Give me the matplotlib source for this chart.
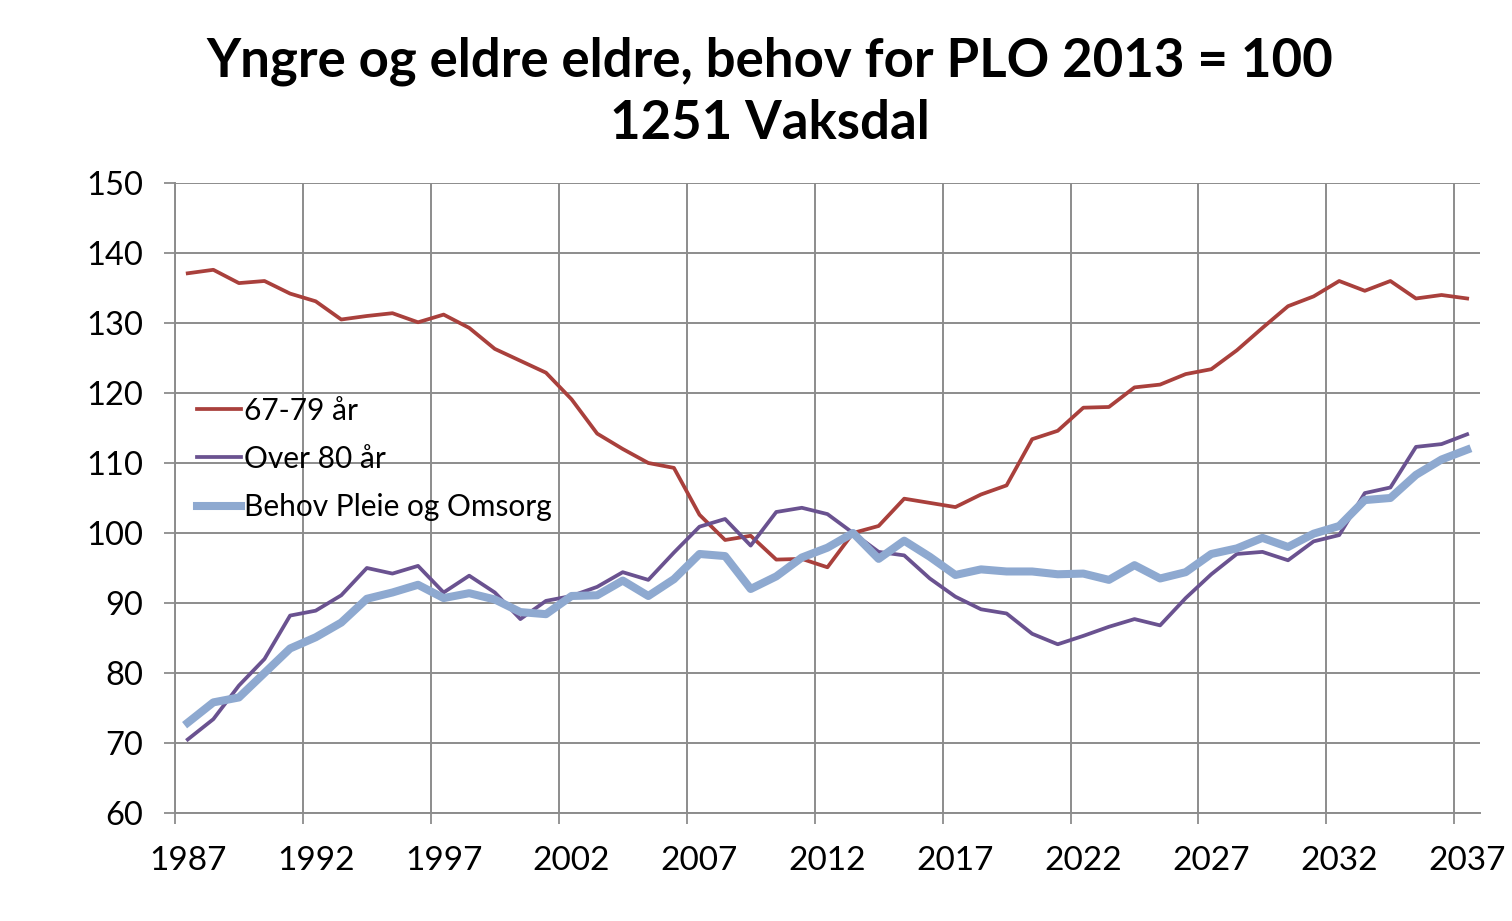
import numpy as np
import matplotlib.pyplot as plt

years = np.arange(1987, 2038)

# 67-79 år
yngre = [137.1, 137.6, 135.7, 136.0, 134.2, 133.1, 130.5, 131.0, 131.4, 130.1,
         131.2, 129.3, 126.3, 124.6, 122.9, 119.1, 114.2, 112.0, 110.0, 109.3,
         102.6, 99.0, 99.6, 96.2, 96.3, 95.1, 100.0, 101.0, 104.9, 104.3,
         103.7, 105.5, 106.8, 113.4, 114.6, 117.9, 118.0, 120.8, 121.2, 122.7,
         123.4, 126.1, 129.3, 132.4, 133.8, 136.0, 134.6, 136.0, 133.5, 134.0,
         133.5]

# Over 80 år
eldre = [70.5, 73.4, 78.2, 82.0, 88.2, 88.9, 91.1, 95.0, 94.2, 95.3,
         91.5, 93.9, 91.5, 87.7, 90.3, 91.0, 92.3, 94.4, 93.3, 97.2,
         100.9, 102.0, 98.2, 103.0, 103.6, 102.7, 100.0, 97.3, 96.8, 93.5,
         90.9, 89.1, 88.5, 85.6, 84.1, 85.3, 86.6, 87.7, 86.8, 90.7,
         94.1, 97.0, 97.3, 96.1, 98.8, 99.7, 105.7, 106.5, 112.3, 112.7,
         114.1]

# Behov Pleie og Omsorg
behov = [72.9, 75.8, 76.5, 80.0, 83.5, 85.1, 87.2, 90.6, 91.5, 92.6,
         90.7, 91.4, 90.5, 88.7, 88.4, 91.0, 91.1, 93.2, 91.0, 93.4,
         97.0, 96.7, 92.0, 93.8, 96.5, 97.9, 100.0, 96.3, 98.9, 96.6,
         94.0, 94.8, 94.5, 94.5, 94.1, 94.2, 93.3, 95.4, 93.5, 94.4,
         97.0, 97.8, 99.3, 98.0, 99.9, 101.0, 104.7, 105.0, 108.3, 110.5,
         111.9]

labels = ['67-79 år', 'Over 80 år', 'Behov Pleie og Omsorg']
title = 'Yngre og eldre eldre, behov for PLO 2013 = 100\n1251 Vaksdal'

plt.rcParams['font.family'] = ['Lato', 'DejaVu Sans']

fig = plt.figure(figsize=(15.12, 9.21), dpi=100)
ax = fig.add_axes([0.1157, 0.1173, 0.8631, 0.684])

ax.plot(years, yngre, color='#A9403C', lw=2.7, label=labels[0], solid_joinstyle='round')
ax.plot(years, eldre, color='#6A5290', lw=2.7, label=labels[1], solid_joinstyle='round')
ax.plot(years, behov, color='#8EA9D0', lw=5.8, label=labels[2], solid_joinstyle='round')

ax.set_xlim(1986.5, 2037.5)
ax.set_ylim(60, 150)
ax.set_yticks(np.arange(60, 151, 10))
ax.set_xticks(np.arange(1986.5, 2037, 5))
ax.set_xticklabels([])
ax.set_xticks(years[::5], labels=[str(y) for y in years[::5]], minor=True)
ax.tick_params(axis='x', which='major', length=8, width=1.3, color='#8c8c8c')
ax.tick_params(axis='x', which='minor', length=0, pad=24, labelsize=24)
ax.tick_params(axis='y', length=8, width=1.3, color='#8c8c8c', pad=15, labelsize=23.5)

ax.grid(True, which='major', color='#8c8c8c', lw=1.4)
ax.set_axisbelow(True)
for s in ['top', 'right']:
    ax.spines[s].set_visible(False)
for s in ['left', 'bottom']:
    ax.spines[s].set_color('#8c8c8c')
    ax.spines[s].set_linewidth(1.4)

fig.suptitle(title, fontsize=38, fontweight='bold', x=0.509, y=0.96, linespacing=1.32)

ax.legend(loc='upper left', bbox_to_anchor=(0.008, 0.68), frameon=False, fontsize=21.5,
          handlelength=1.45, handletextpad=0.1, labelspacing=0.68, borderaxespad=0)

fig.savefig('out.png', dpi=100, facecolor='white')
